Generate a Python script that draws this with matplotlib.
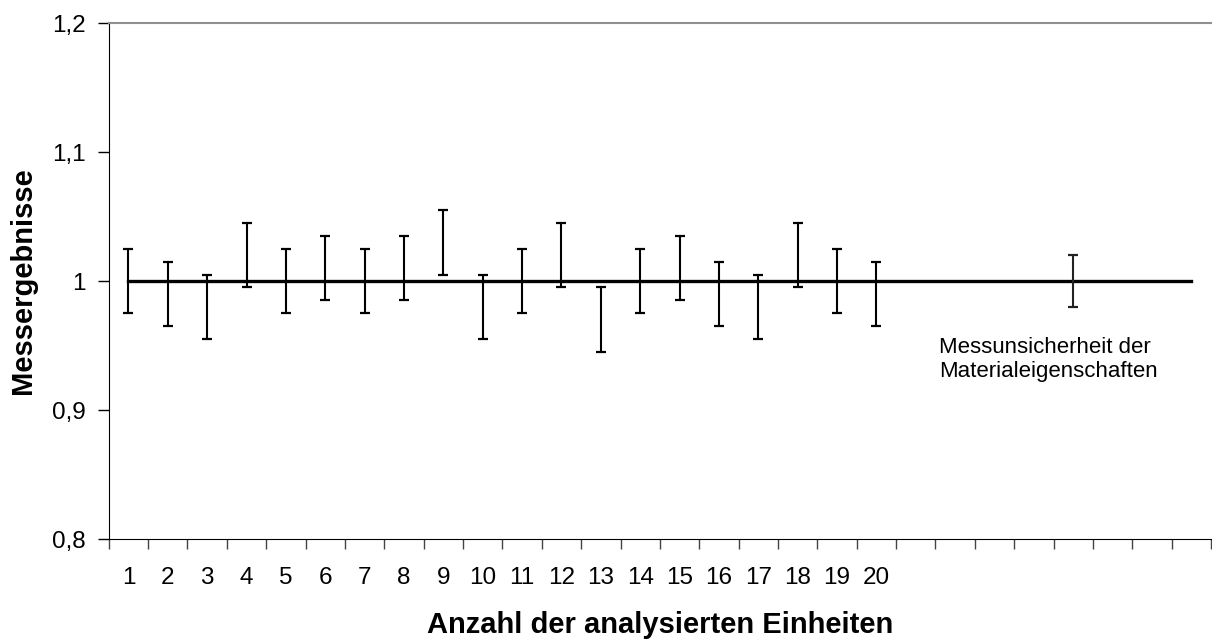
import matplotlib
matplotlib.use("Agg")
import matplotlib.pyplot as plt
import numpy as np

plt.rcParams['font.family'] = ['Liberation Sans', 'DejaVu Sans']

# measured units (category positions 1..20) and their results
units = list(range(1, 21))
results = [1.00, 0.99, 0.98, 1.02, 1.00, 1.01, 1.00, 1.01, 1.03, 0.98,
           1.00, 1.02, 0.97, 1.00, 1.01, 0.99, 0.98, 1.02, 1.00, 0.99]
unit_uncertainty = [0.025] * 20

# material property uncertainty bar
material_pos = [25]
material_value = [1.00]
material_uncertainty = [0.02]

# reference line at the certified value
ref_x = [1, 28]
ref_y = [1.0, 1.0]

n_categories = 28
tick_labels = [str(u) for u in units] + [''] * (n_categories - len(units))

fig = plt.figure(figsize=(12.12, 6.44), dpi=100)
ax = fig.add_axes([0.0897, 0.163, 0.9095, 0.8012])

ax.plot(ref_x, ref_y, color='black', linewidth=2.4, zorder=2)
ax.errorbar(units, results, yerr=unit_uncertainty, fmt='none', ecolor='black',
            elinewidth=1.5, capsize=3.8, capthick=1.6, zorder=3)
ax.errorbar(material_pos, material_value, yerr=material_uncertainty, fmt='none',
            ecolor='#222222', elinewidth=1.5, capsize=3.8, capthick=1.6, zorder=3)

ax.text(21.6, 0.957, 'Messunsicherheit der\nMaterialeigenschaften',
        fontsize=16, ha='left', va='top')

ax.set_xlim(0.5, n_categories + 0.5)
ax.set_ylim(0.8, 1.2)

# y axis
ax.set_yticks([0.8, 0.9, 1.0, 1.1, 1.2])
ax.set_yticklabels(['0,8', '0,9', '1', '1,1', '1,2'])
ax.tick_params(axis='y', direction='out', length=8, width=1, pad=8.5, labelsize=17.5)

# x axis: labels at category centres, ticks at category boundaries
ax.set_xticks(np.arange(1, n_categories + 1))
ax.set_xticklabels(tick_labels)
ax.tick_params(axis='x', which='major', length=0, pad=20, labelsize=17.5)
ax.set_xticks(np.arange(0.5, n_categories + 1), minor=True)
ax.tick_params(axis='x', which='minor', direction='out', length=7, width=1,
               color='#444444')

ax.spines['left'].set_color('black')
ax.spines['bottom'].set_color('black')
ax.spines['top'].set_color('#909090')
ax.spines['top'].set_linewidth(1.5)
ax.spines['right'].set_visible(False)

ax.set_xlabel('Anzahl der analysierten Einheiten', fontsize=21, fontweight='bold',
              labelpad=16)
ax.set_ylabel('Messergebnisse', fontsize=21, fontweight='bold', labelpad=11)

fig.savefig('out.png', dpi=100)
